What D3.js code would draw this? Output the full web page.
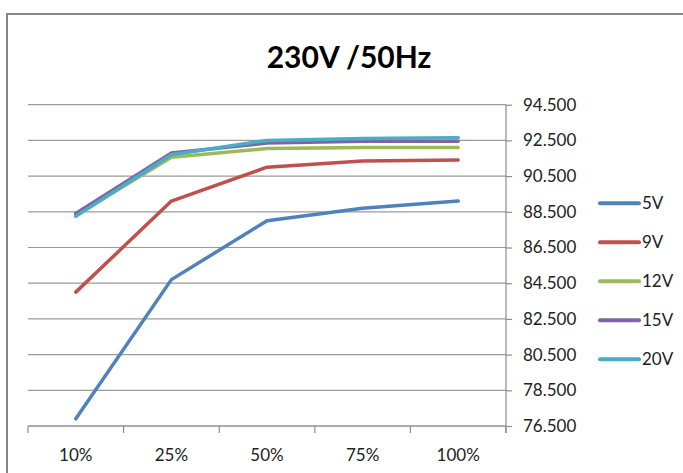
<!DOCTYPE html>
<html>
<head>
<meta charset="utf-8">
<script src="https://cdn.jsdelivr.net/npm/d3@7"></script>
<style>
  html, body { margin: 0; padding: 0; background: #fff; }
  svg { display: block; }
  text { font-family: Lato, "Open Sans", sans-serif; fill: #222; }
</style>
</head>
<body>
<svg id="chart" width="683" height="473"></svg>
<script>
const title = "230V /50Hz";
const categories = ["10%", "25%", "50%", "75%", "100%"];
const seriesNames = ["5V", "9V", "12V", "15V", "20V"];
const v5 = [76.9, 84.7, 88.0, 88.7, 89.1];
const v9 = [84.0, 89.1, 91.0, 91.35, 91.4];
const v12 = [88.3, 91.55, 92.05, 92.1, 92.1];
const v15 = [88.4, 91.8, 92.35, 92.45, 92.45];
const v20 = [88.25, 91.7, 92.5, 92.6, 92.65];
const yTicks = [76.5, 78.5, 80.5, 82.5, 84.5, 86.5, 88.5, 90.5, 92.5, 94.5];
const colors = ["#4F81BD", "#C0504D", "#9BBB59", "#8064A2", "#4BACC6"];

const seriesValues = [v5, v9, v12, v15, v20];
const series = seriesNames.map((name, i) => ({ name, values: seriesValues[i], color: colors[i] }));

const svg = d3.select("#chart");

// outer frame
svg.append("rect")
  .attr("x", 7).attr("y", 14)
  .attr("width", 700).attr("height", 500)
  .attr("fill", "#fff")
  .attr("stroke", "#868686")
  .attr("stroke-width", 2);

const plotLeft = 28, plotRight = 506, plotTop = 104.7, plotBottom = 426;

const x = d3.scaleBand().domain(categories).range([plotLeft, plotRight]).padding(0);
const y = d3.scaleLinear().domain([76.5, 94.5]).range([plotBottom, plotTop]);

// title
svg.append("text")
  .attr("x", 349).attr("y", 68)
  .attr("text-anchor", "middle")
  .style("font-size", "30px")
  .style("font-weight", "bold")
  .style("fill", "#000")
  .text(title);

// gridlines
svg.append("g")
  .selectAll("line")
  .data(yTicks)
  .join("line")
  .attr("x1", plotLeft).attr("x2", plotRight)
  .attr("y1", d => y(d)).attr("y2", d => y(d))
  .attr("stroke", "#9a9a9a")
  .attr("stroke-width", 1.2);

// right y axis
const yAxis = d3.axisRight(y).tickValues(yTicks).tickFormat(d3.format(".3f")).tickSize(6).tickPadding(11);
const gy = svg.append("g").attr("transform", `translate(${plotRight},0)`).call(yAxis);
gy.select(".domain").remove();
gy.selectAll(".tick line").attr("stroke", "#8c8c8c").attr("stroke-width", 1.2);
gy.selectAll(".tick text").style("font-size", "17px").style("font-family", "Lato, sans-serif").attr("fill", "#222");
gy.append("line")
  .attr("x1", 0).attr("x2", 0)
  .attr("y1", plotTop).attr("y2", plotBottom + 7)
  .attr("stroke", "#8c8c8c").attr("stroke-width", 1.2);

// x axis
svg.append("line")
  .attr("x1", plotLeft).attr("x2", plotRight)
  .attr("y1", plotBottom).attr("y2", plotBottom)
  .attr("stroke", "#8c8c8c").attr("stroke-width", 1.2);
const xEdges = categories.map(c => x(c)).concat([plotRight]);
svg.append("g").selectAll("line")
  .data(xEdges)
  .join("line")
  .attr("x1", d => d).attr("x2", d => d)
  .attr("y1", plotBottom).attr("y2", plotBottom + 7)
  .attr("stroke", "#8c8c8c").attr("stroke-width", 1.2);
svg.append("g").selectAll("text")
  .data(categories)
  .join("text")
  .attr("x", d => x(d) + x.bandwidth() / 2)
  .attr("y", 460.5)
  .attr("text-anchor", "middle")
  .style("font-size", "17px")
  .text(d => d);

// lines
const line = d3.line()
  .x((d, i) => x(categories[i]) + x.bandwidth() / 2)
  .y(d => y(d));
svg.append("g").selectAll("path")
  .data(series)
  .join("path")
  .attr("d", d => line(d.values))
  .attr("fill", "none")
  .attr("stroke", d => d.color)
  .attr("stroke-width", 3.5)
  .attr("stroke-linejoin", "round")
  .attr("stroke-linecap", "round");

// legend
const lg = svg.append("g").selectAll("g")
  .data(series)
  .join("g")
  .attr("transform", (d, i) => `translate(600,${203.3 + i * 39})`);
lg.append("line")
  .attr("x1", 0).attr("x2", 39)
  .attr("stroke", d => d.color)
  .attr("stroke-width", 4)
  .attr("stroke-linecap", "round");
lg.append("text")
  .attr("x", 42).attr("y", 6)
  .style("font-size", "17px")
  .text(d => d.name);
</script>
</body>
</html>
